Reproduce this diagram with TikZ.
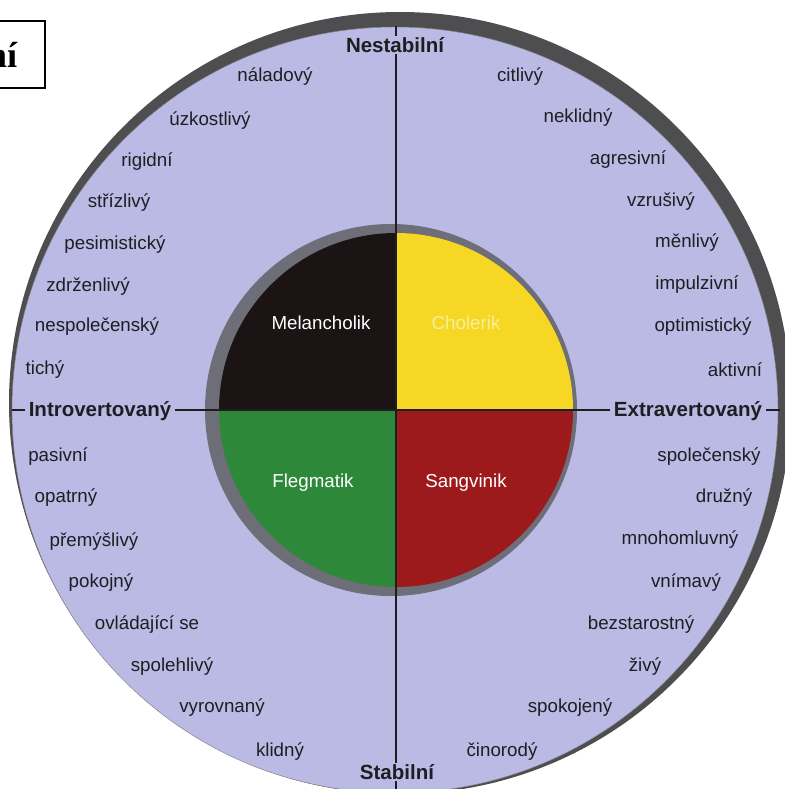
\documentclass[tikz,border=0pt]{standalone}
\usepackage{fontspec}
\setmainfont{Liberation Sans}
\newfontfamily\boxserif{Liberation Serif}
\usepackage{tikz}
\usetikzlibrary{calc,positioning}
\definecolor{lilac}{RGB}{186,186,228}
\definecolor{rim}{RGB}{78,78,80}
\definecolor{ring}{RGB}{110,110,120}
\definecolor{melan}{RGB}{28,20,20}
\definecolor{chol}{RGB}{246,216,36}
\definecolor{flegm}{RGB}{46,136,58}
\definecolor{sangv}{RGB}{156,26,28}
\definecolor{cholink}{RGB}{246,238,160}
\definecolor{ink}{RGB}{30,30,34}
\tikzset{%
	word/.style      = {text=ink, font=\fontsize{16}{19}\selectfont, inner sep=1pt}, % trait
	axislabel/.style = {text=ink, fill=lilac, font=\fontsize{17.5}{20}\selectfont\bfseries, inner xsep=3pt, inner ysep=1pt}, % axis end
	typelabel/.style = {text=white, font=\fontsize{16}{19}\selectfont}, % temperament
	axis/.style      = {draw=ink, line width=0.9pt},
	titlebox/.style  = {draw, line width=1.4pt, font=\boxserif\fontsize{31}{34}\selectfont\bfseries, inner xsep=0.84cm, minimum height=2.01cm},
}
\begin{document}
\begin{tikzpicture}[x=0.03cm, y=-0.03cm]
		\useasboundingbox (0,0) rectangle (784,789);
		\fill[rim] (400,403) circle (391);
		\fill[lilac, draw=rim!70, line width=0.4pt] (395,410) circle (383);
		\fill[ring] (391,410) circle (186);
		\coordinate (cen) at (396,410);
		\fill[melan] (cen) -- ++(-180:177) arc (-180:-90:177) -- cycle;
		\fill[chol] (cen) -- ++(-90:177) arc (-90:0:177) -- cycle;
		\fill[sangv] (cen) -- ++(0:177) arc (0:90:177) -- cycle;
		\fill[flegm] (cen) -- ++(90:177) arc (90:180:177) -- cycle;
		\node[typelabel] (mel) at (321,323) {Melancholik};
		\node[typelabel, text=cholink] (cho) at (466,323) {Cholerik};
		\node[typelabel] (fle) at (313,483) {Flegmatik};
		\node[typelabel] (san) at (466,483) {Sangvinik};
		
		\coordinate (ntop) at (396,26);
		\coordinate (sbot) at (396,793);
		\coordinate (wend) at (12,410);
		\coordinate (eend) at (780,410);
		\draw[axis] (ntop) -- (sbot);
		\draw[axis] (wend) -- (eend);
		\node[axislabel] (nest) at (395,45) {Nestabilní};
		\node[axislabel] (stab) at (397,772) {Stabilní};
		\node[axislabel] (intro) at (100,411) {Introvertovaný};
		\node[axislabel] (extra) at (688,411) {Extravertovaný};
		
		\foreach \x/\y/\txt [count=\i] in {275/77/náladový, 210/121/úzkostlivý, 147/162/rigidní, 119/203/střízlivý,
			115/245/pesimistický, 88/287/zdrženlivý, 97/327/nespolečenský, 45/370/tichý,
			58/457/pasivní, 66/498/opatrný, 94/542/přemýšlivý, 101/583/pokojný,
			147/625/ovládající se, 172/667/spolehlivý, 222/708/vyrovnaný, 280/752/klidný}
			\node[word] (left\i) at (\x,\y) {\txt};
		\foreach \x/\y/\txt [count=\i] in {520/77/citlivý, 578/118/neklidný, 628/160/agresivní, 661/202/vzrušivý,
			687/243/měnlivý, 697/285/impulzivní, 703/327/optimistický, 735/370/aktivní,
			709/457/společenský, 724/498/družný, 680/540/mnohomluvný, 686/583/vnímavý,
			641/625/bezstarostný, 645/667/živý, 570/708/spokojený, 502/752/činorodý}
			\node[word] (right\i) at (\x,\y) {\txt};
		
		\node[titlebox, anchor=east] (title) at (46,54.5) {ní};
		
		\end{tikzpicture}
\end{document}
